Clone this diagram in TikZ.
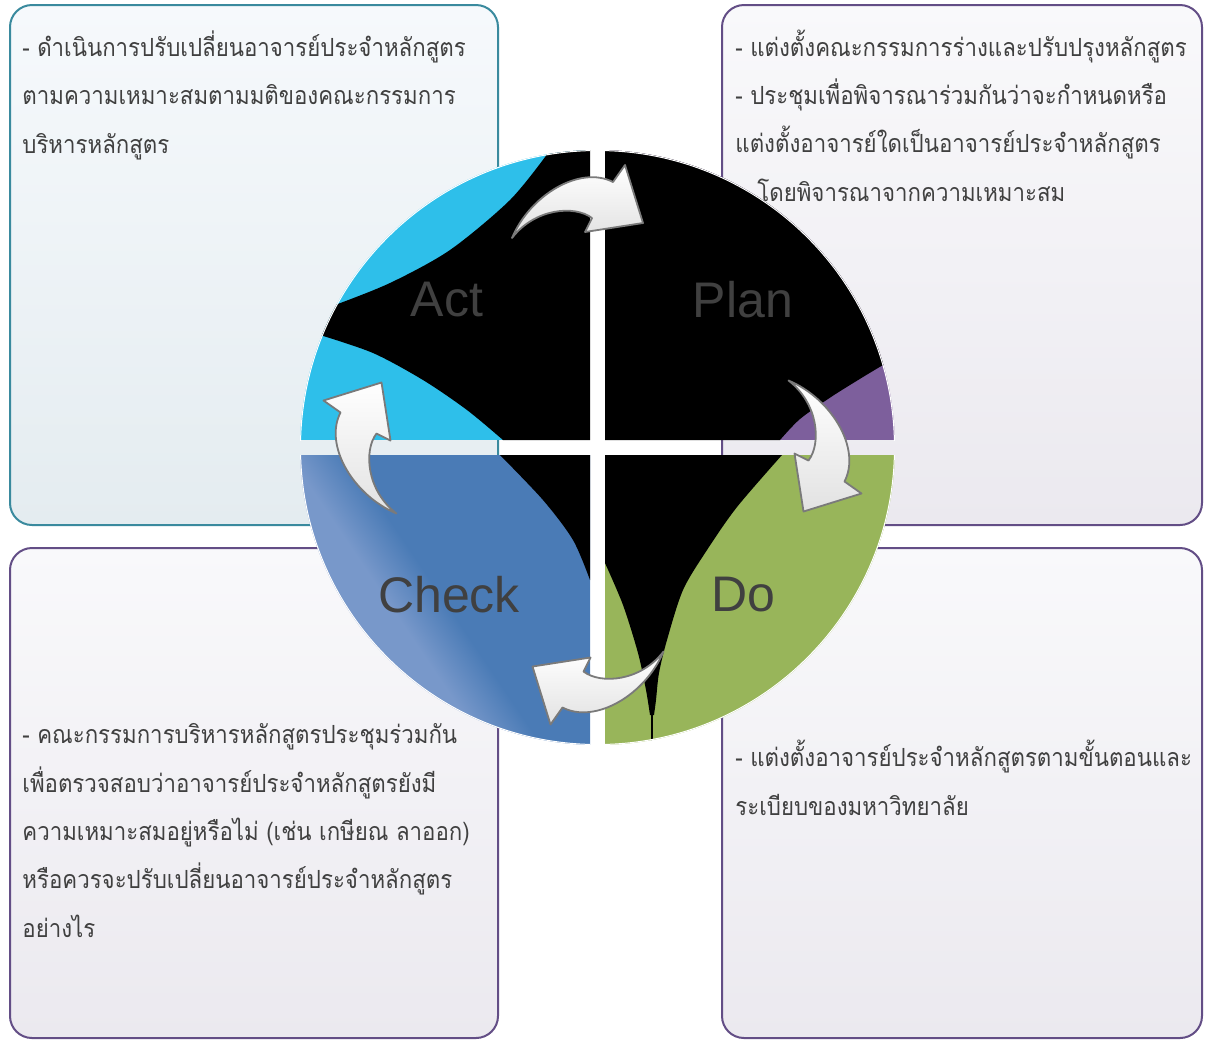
\documentclass[tikz,border=0pt]{standalone}
\usepackage{fontspec}
\setmainfont{Liberation Sans}
\newfontfamily\thaifont[Script=Thai,FakeStretch=0.89]{Loma}
\definecolor{inktone}{HTML}{404040}
\definecolor{acttone}{HTML}{2EBFEA}
\definecolor{plantone}{HTML}{7D5F9C}
\definecolor{dotone}{HTML}{98B55A}
\definecolor{checkblue}{HTML}{4A7BB6}
\definecolor{checklight}{HTML}{7898CA}
\definecolor{tealedge}{HTML}{3A8A9E}
\definecolor{purpleedge}{HTML}{634E86}
\definecolor{acttop}{HTML}{F6F9FC}
\definecolor{actbottom}{HTML}{E4ECF0}
\definecolor{notetop}{HTML}{F9F9FB}
\definecolor{notebottom}{HTML}{EBE9EF}
\definecolor{arrowgray}{HTML}{E2E2E2}
\definecolor{edgegray}{HTML}{7A7A7A}
\pgfdeclarehorizontalshading{checkband}{100bp}{color(0bp)=(checklight); color(43bp)=(checklight); color(51bp)=(checkblue); color(100bp)=(checkblue)}
\newcommand{\cyclearrow}{\draw[turn] (-65.5,36.5) .. controls (-47.5,-6.5) and (2.5,-36.5) .. (35.5,-19.5) -- (47.5,-36.5) -- (65.5,21.5) -- (7.5,30.5) -- (14.5,16.5) .. controls (-2.5,3.5) and (-42.5,6.5) .. cycle;}
\begin{document}
\begin{tikzpicture}[x=0.5pt,y=-0.5pt]
		\tikzstyle{panel}=[rounded corners=11pt,line width=1pt]
		\tikzstyle{note}=[anchor=base west,align=left,inner sep=0pt,text=inktone,font=\thaifont\fontsize{12.5}{24.15}\selectfont]
		\tikzstyle{phase}=[text=inktone,font=\fontsize{25}{30}\selectfont]
		\tikzstyle{turn}=[draw=edgegray,line width=0.9pt,top color=white,bottom color=arrowgray,line join=round]
		\useasboundingbox (0,0) rectangle (1205,1041);
		\draw[panel,draw=tealedge,top color=acttop,bottom color=actbottom] (10,5) rectangle (498,525);
		\draw[panel,draw=purpleedge,top color=notetop,bottom color=notebottom] (722,5) rectangle (1202,525);
		\draw[panel,draw=purpleedge,top color=notetop,bottom color=notebottom] (10,548) rectangle (498,1038);
		\draw[panel,draw=purpleedge,top color=notetop,bottom color=notebottom] (722,548) rectangle (1202,1038);
		\node[note](acttext)at(22,153){- ดำเนินการปรับเปลี่ยนอาจารย์ประจำหลักสูตร\\ตามความเหมาะสมตามมติของคณะกรรมการ\\บริหารหลักสูตร};
		\node[note](plantext)at(735,201){- แต่งตั้งคณะกรรมการร่างและปรับปรุงหลักสูตร\\- ประชุมเพื่อพิจารณาร่วมกันว่าจะกำหนดหรือ\\แต่งตั้งอาจารย์ใดเป็นอาจารย์ประจำหลักสูตร\\\hspace*{11pt}โดยพิจารณาจากความเหมาะสม};
		\node[note](checktext)at(22,937){- คณะกรรมการบริหารหลักสูตรประชุมร่วมกัน\\เพื่อตรวจสอบว่าอาจารย์ประจำหลักสูตรยังมี\\ความเหมาะสมอยู่หรือไม่ (เช่น เกษียณ ลาออก)\\หรือควรจะปรับเปลี่ยนอาจารย์ประจำหลักสูตร\\อย่างไร};
		\node[note](dotext)at(735,815){- แต่งตั้งอาจารย์ประจำหลักสูตรตามขั้นตอนและ\\ระเบียบของมหาวิทยาลัย};
		\begin{scope}
			\clip (290,140) rectangle (590,440);
			\clip (597.5,447.5) circle[radius=297.5];
			\fill[acttone] (290,140) rectangle (590,440);
			\fill[black] (548,140) -- plot[smooth] coordinates {(548,153) (510,200) (450,250) (390,283) (335,305)} -- (290,305) -- (290,335) -- plot[smooth] coordinates {(320,335) (373,353) (423,380) (467,410) (503,440)} -- (590,440) -- (590,140) -- cycle;
			\draw[white,line width=1pt] (597.5,447.5) circle[radius=297.5];
		\end{scope}
		\begin{scope}
			\clip (605,140) rectangle (905,440);
			\clip (597.5,447.5) circle[radius=297.5];
			\fill[plantone] (605,140) rectangle (905,440);
			\fill[black] (605,140) -- (905,140) -- (905,362) -- plot[smooth] coordinates {(883,365) (863,377) (831,397) (800,419) (780,440)} -- (605,440) -- cycle;
			\draw[white,line width=1pt] (597.5,447.5) circle[radius=297.5];
		\end{scope}
		\begin{scope}
			\clip (290,455) rectangle (590,755);
			\clip (597.5,447.5) circle[radius=297.5];
			\shade[shading=checkband,shading angle=34] (290,455) rectangle (590,755);
			\fill[black] plot[smooth] coordinates {(500,455) (543,500) (573,540) (590,580)} -- (595,580) -- (595,450) -- (500,450) -- cycle;
			\draw[white,line width=1pt] (597.5,447.5) circle[radius=297.5];
		\end{scope}
		\begin{scope}
			\clip (605,455) rectangle (905,755);
			\clip (597.5,447.5) circle[radius=297.5];
			\fill[dotone] (605,455) rectangle (905,755);
			\fill[black] (605,455) -- plot[smooth] coordinates {(782,455) (737,507) (707,550) (683,590) (667,640) (659,673) (656,700) (654,715)} -- plot[smooth] coordinates {(650,715) (646,690) (638,653) (623,605) (605,563)} -- cycle;
			\draw[black,line width=1.2pt] (652,705) -- (652,750);
			\draw[white,line width=1pt] (597.5,447.5) circle[radius=297.5];
		\end{scope}
		\node[phase](act)at(447,300){Act};
		\node[phase](plan)at(743,300){Plan};
		\node[phase](check)at(449,595){Check};
		\node[phase](do)at(743,595){Do};
		\begin{scope}[shift={(577.5,201.5)}]
			\cyclearrow
		\end{scope}
		\begin{scope}[shift={(825,446)},rotate=-90]
			\cyclearrow
		\end{scope}
		\begin{scope}[shift={(598,688)},rotate=180]
			\cyclearrow
		\end{scope}
		\begin{scope}[shift={(360,448)},rotate=90]
			\cyclearrow
		\end{scope}
\end{tikzpicture}
\end{document}
